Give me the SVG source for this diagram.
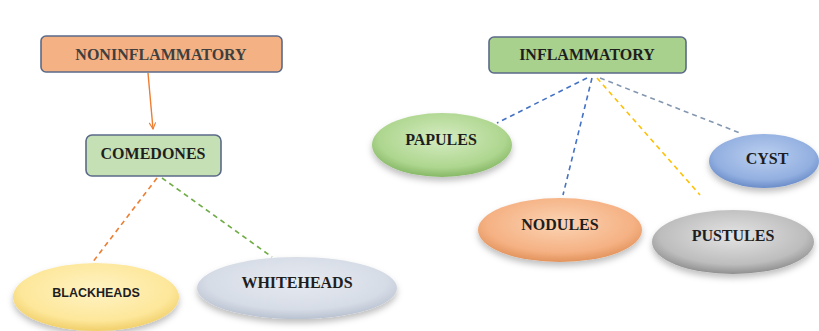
<svg xmlns="http://www.w3.org/2000/svg" width="819" height="331" viewBox="0 0 819 331">
<style>
.box{stroke:#5a6a88;stroke-width:1.6}
.t{font-family:"Liberation Serif","Times New Roman",serif;font-weight:bold;font-size:16px;fill:#1e1e1e;text-anchor:middle}
.s{font-family:"Liberation Sans",Arial,sans-serif;font-weight:bold;font-size:12.5px;fill:#1e1e1e;text-anchor:middle}
.dash{fill:none;stroke-width:1.6;stroke-dasharray:5 4}
.ell{filter:url(#sh)}
</style>
<defs>
<filter id="sh" x="-20%" y="-30%" width="140%" height="170%">
<feDropShadow dx="0" dy="4" stdDeviation="3" flood-color="#000" flood-opacity="0.25"/>
</filter>
<marker id="arr" viewBox="0 0 10 10" refX="9" refY="5" markerWidth="8" markerHeight="8" orient="auto" markerUnits="userSpaceOnUse">
<path d="M1,1 L9,5 L1,9" fill="none" stroke="#ed7d31" stroke-width="1.4"/>
</marker>
<radialGradient id="gYel" cx="50%" cy="40%" r="60%"><stop offset="0" stop-color="#fff3c4"/><stop offset="0.75" stop-color="#fde79a"/><stop offset="1" stop-color="#f1cf6a"/></radialGradient>
<radialGradient id="gWht" cx="50%" cy="40%" r="60%"><stop offset="0" stop-color="#e6eaf1"/><stop offset="0.75" stop-color="#d6dce6"/><stop offset="1" stop-color="#b9c2d1"/></radialGradient>
<radialGradient id="gGrn" cx="50%" cy="40%" r="60%"><stop offset="0" stop-color="#d5ecc2"/><stop offset="0.75" stop-color="#aed68f"/><stop offset="1" stop-color="#86b866"/></radialGradient>
<radialGradient id="gBlu" cx="50%" cy="40%" r="60%"><stop offset="0" stop-color="#bcd0f0"/><stop offset="0.75" stop-color="#92afe0"/><stop offset="1" stop-color="#6a8cc8"/></radialGradient>
<radialGradient id="gOra" cx="50%" cy="40%" r="60%"><stop offset="0" stop-color="#fbd4b4"/><stop offset="0.75" stop-color="#f5b183"/><stop offset="1" stop-color="#e2935c"/></radialGradient>
<radialGradient id="gGry" cx="50%" cy="40%" r="60%"><stop offset="0" stop-color="#e4e4e4"/><stop offset="0.75" stop-color="#bdbdbd"/><stop offset="1" stop-color="#8f8f8f"/></radialGradient>
</defs>
<rect width="819" height="331" fill="#ffffff"/>
<g id="connectors">
<line x1="148" y1="73" x2="153" y2="129" stroke="#ed7d31" stroke-width="1.4" marker-end="url(#arr)"/>
<line class="dash" x1="157" y1="178" x2="92" y2="263" stroke="#ed7d31"/>
<line class="dash" x1="162" y1="178" x2="272" y2="257" stroke="#70ad47"/>
<line class="dash" x1="587" y1="78" x2="497" y2="123" stroke="#4472c4"/>
<line class="dash" x1="592" y1="78" x2="563" y2="195" stroke="#4472c4"/>
<line class="dash" x1="597" y1="78" x2="700" y2="195" stroke="#ffc000"/>
<line class="dash" x1="600" y1="78" x2="740" y2="133" stroke="#8497b0"/>
</g>
<g id="noninflammatory">
<rect class="box" x="41" y="36" width="241" height="36" rx="5" fill="#f4b183"/>
<text class="t" x="161" y="60" fill="#3f3f3f" style="fill:#3f3f3f">NONINFLAMMATORY</text>
</g>
<g id="comedones">
<rect class="box" x="86" y="135" width="135" height="41" rx="6" fill="#c5e0b4"/>
<text class="t" x="153" y="159">COMEDONES</text>
</g>
<g id="blackheads">
<ellipse class="ell" cx="96" cy="297" rx="83" ry="34" fill="url(#gYel)"/>
<text class="s" x="96" y="297">BLACKHEADS</text>
</g>
<g id="whiteheads">
<ellipse class="ell" cx="297" cy="288" rx="100" ry="31" fill="url(#gWht)"/>
<text class="t" x="297" y="288">WHITEHEADS</text>
</g>
<g id="inflammatory">
<rect class="box" x="489" y="37" width="197" height="36" rx="5" fill="#a9d18e"/>
<text class="t" x="587" y="60">INFLAMMATORY</text>
</g>
<g id="papules">
<ellipse class="ell" cx="442" cy="145" rx="70" ry="32" fill="url(#gGrn)"/>
<text class="t" x="441" y="145">PAPULES</text>
</g>
<g id="cyst">
<ellipse class="ell" cx="764" cy="161" rx="55" ry="27" fill="url(#gBlu)"/>
<text class="t" x="767" y="164">CYST</text>
</g>
<g id="nodules">
<ellipse class="ell" cx="560" cy="230" rx="82" ry="32" fill="url(#gOra)"/>
<text class="t" x="560" y="230">NODULES</text>
</g>
<g id="pustules">
<ellipse class="ell" cx="733" cy="242" rx="81" ry="32" fill="url(#gGry)"/>
<text class="t" x="733" y="241">PUSTULES</text>
</g>
</svg>
